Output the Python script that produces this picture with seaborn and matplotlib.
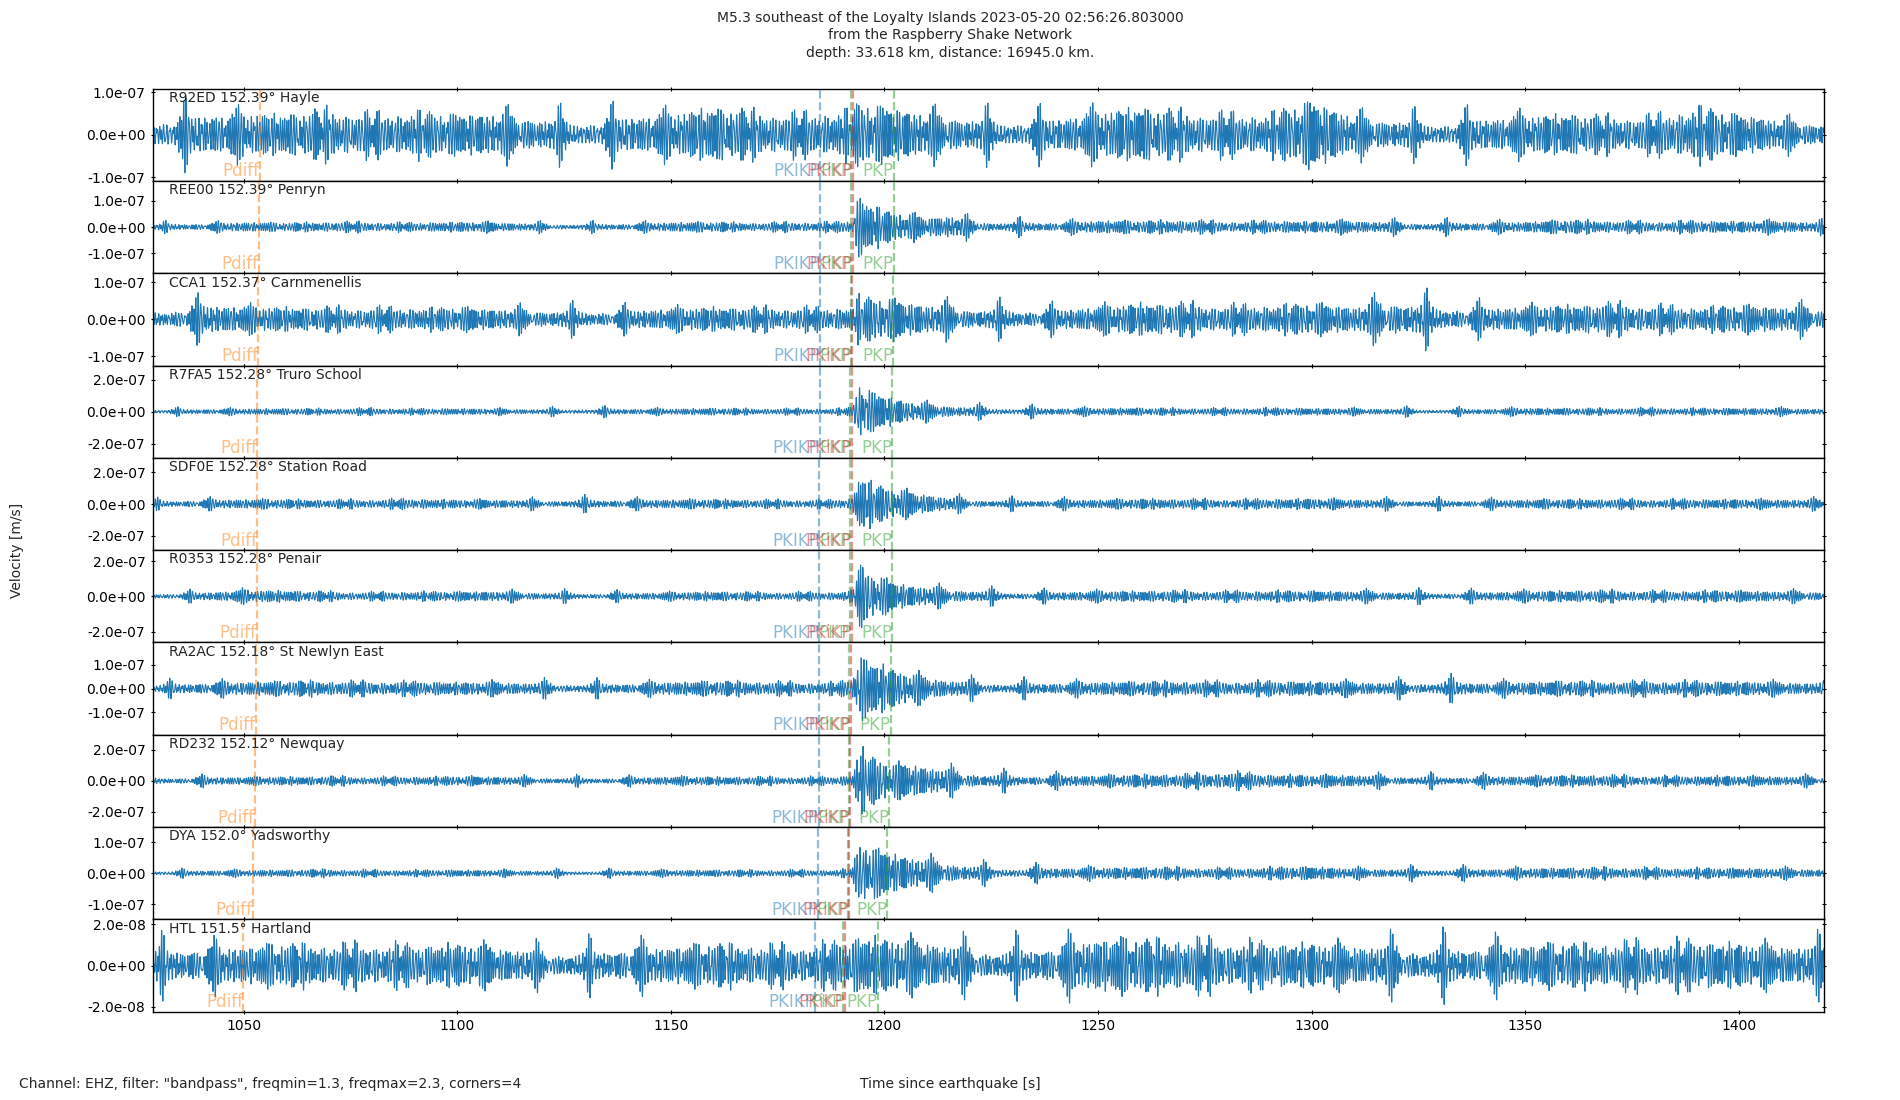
import numpy as np
import pandas as pd
import matplotlib
matplotlib.use("Agg")
import matplotlib.pyplot as plt
import matplotlib.transforms as mtransforms
from matplotlib.ticker import FormatStrFormatter, MultipleLocator
import seaborn as sns

# ==========================================
# Data
# ==========================================
stations = ["R92ED", "REE00", "CCA1", "R7FA5", "SDF0E", "R0353", "RA2AC", "RD232", "DYA", "HTL"]
distances = ["152.39", "152.39", "152.37", "152.28", "152.28", "152.28", "152.18", "152.12", "152.0", "151.5"]
places = ["Hayle", "Penryn", "Carnmenellis", "Truro School", "Station Road", "Penair",
          "St Newlyn East", "Newquay", "Yadsworthy", "Hartland"]

# phase arrival times [s] per station
t_pdiff = [1053.7, 1053.5, 1053.45, 1053.2, 1053.15, 1053.05, 1052.8, 1052.6, 1052.1, 1049.9]
t_pkikp = [1184.9, 1184.9, 1184.9, 1184.85, 1184.8, 1184.8, 1184.7, 1184.6, 1184.45, 1183.75]
t_pkikp2 = [1192.6, 1192.6, 1192.5, 1192.35, 1192.35, 1192.3, 1192.2, 1192.0, 1191.8, 1190.85]
t_pkp1 = [1192.2, 1192.2, 1192.1, 1191.95, 1191.95, 1191.9, 1191.8, 1191.6, 1191.4, 1190.2]
t_pkp2 = [1202.2, 1202.2, 1202.1, 1201.85, 1201.8, 1201.8, 1201.5, 1201.15, 1200.7, 1198.45]

# y tick step and y limit per station [nm/s]
ytick_nm = [100, 100, 100, 200, 200, 200, 100, 200, 100, 20]
ylim_nm = [108.6, 177, 125, 287, 292, 262, 195, 298, 149, 22.4]

# envelope knots (time) and peak amplitude [nm/s]
env_t = [1030, 1040, 1050, 1060, 1070, 1080, 1090, 1100, 1110, 1120, 1130, 1140, 1150, 1160, 1170, 1180,
         1188, 1192.5, 1194, 1197, 1202, 1206, 1210, 1215, 1220,
         1230, 1240, 1250, 1260, 1270, 1280, 1290, 1300, 1310, 1320, 1330, 1340, 1350, 1360, 1370,
         1380, 1390, 1400, 1410, 1420]
env_r92ed = [50, 55, 50, 45, 55, 45, 50, 45, 50, 45, 45, 50, 50, 60, 50, 45,
             50, 55, 70, 65, 60, 55, 50, 50, 45,
             45, 45, 55, 60, 50, 45, 45, 75, 45, 40, 40, 45, 45, 45, 40, 40, 60, 45, 35, 30]
env_ree00 = [15, 15, 18, 15, 18, 18, 15, 18, 18, 15, 15, 15, 18, 18, 15, 18,
             18, 22, 120, 80, 55, 45, 40, 50, 30,
             25, 20, 25, 22, 25, 20, 22, 20, 25, 22, 22, 20, 20, 25, 22, 20, 22, 20, 25, 20]
env_cca1 = [30, 45, 35, 30, 30, 30, 28, 30, 28, 30, 30, 28, 30, 30, 30, 30,
            28, 32, 60, 55, 50, 45, 40, 40, 35,
            35, 30, 35, 40, 40, 35, 35, 40, 35, 60, 45, 35, 35, 35, 40, 35, 30, 35, 35, 35]
env_r7fa5 = [18, 18, 18, 18, 18, 20, 18, 18, 18, 18, 25, 20, 18, 20, 18, 18,
             18, 25, 170, 120, 80, 60, 50, 40, 35,
             30, 25, 22, 22, 20, 20, 22, 20, 20, 22, 20, 20, 22, 20, 20, 22, 20, 20, 22, 22]
env_sdf0e = [25, 30, 30, 28, 25, 28, 30, 25, 28, 28, 35, 30, 28, 28, 25, 25,
             25, 35, 180, 130, 90, 75, 65, 45, 35,
             30, 30, 28, 30, 30, 28, 30, 32, 30, 30, 28, 28, 28, 28, 30, 28, 28, 28, 30, 30]
env_r0353 = [22, 25, 35, 30, 25, 22, 25, 25, 28, 25, 25, 22, 22, 25, 22, 22,
             22, 30, 170, 120, 80, 60, 55, 45, 40,
             30, 28, 30, 28, 30, 28, 30, 28, 30, 30, 28, 28, 30, 30, 32, 28, 30, 30, 28, 32]
env_ra2ac = [25, 28, 28, 30, 30, 28, 28, 25, 28, 28, 28, 25, 28, 30, 28, 25,
             25, 35, 140, 110, 80, 60, 50, 40, 35,
             30, 28, 28, 28, 30, 28, 30, 28, 30, 30, 40, 30, 28, 30, 28, 30, 30, 28, 28, 30]
env_rd232 = [25, 28, 25, 25, 28, 25, 25, 28, 28, 25, 25, 25, 28, 25, 25, 25,
             25, 35, 200, 150, 100, 110, 95, 75, 60,
             45, 40, 35, 40, 40, 55, 40, 35, 40, 35, 35, 35, 30, 35, 35, 30, 30, 30, 30, 30]
env_dya = [10, 10, 10, 10, 12, 10, 10, 10, 10, 10, 10, 10, 10, 10, 10, 10,
           10, 14, 95, 80, 60, 50, 45, 35, 28,
           22, 20, 18, 18, 18, 15, 18, 20, 16, 16, 18, 16, 16, 16, 18, 16, 16, 15, 16, 16]
env_htl = [10, 10, 9, 10, 9, 10, 9, 10, 9, 8, 9, 10, 9, 10, 9, 9,
           10, 12, 14, 13, 12, 12, 12, 11, 10,
           10, 11, 13, 12, 12, 11, 10, 10, 10, 11, 11, 11, 10, 10, 10, 11, 11, 10, 10, 11]
envelopes = [env_r92ed, env_ree00, env_cca1, env_r7fa5, env_sdf0e, env_r0353,
             env_ra2ac, env_rd232, env_dya, env_htl]

# band-limited carrier inside the 1.3-2.3 Hz passband
carrier_freqs = [1.31, 1.39, 1.46, 1.55, 1.63, 1.70, 1.79, 1.86, 1.95, 2.03, 2.12, 2.21, 2.28]

T_START, T_END = 1028.7, 1419.9
SR = 50.0

TITLE = ("M5.3 southeast of the Loyalty Islands 2023-05-20 02:56:26.803000\n"
         "from the Raspberry Shake Network\n"
         "depth: 33.618 km, distance: 16945.0 km.")
FOOTER = 'Channel: EHZ, filter: "bandpass", freqmin=1.3, freqmax=2.3, corners=4'

PHASE_COLORS = {"Pdiff": "tab:orange", "PKIKP": "tab:blue", "PKiKP": "tab:red", "PKP": "tab:green"}


def analytic_envelope(x):
    """Amplitude of the analytic signal (FFT based Hilbert transform)."""
    n = len(x)
    h = np.zeros(n)
    h[0] = 1
    h[1:(n + 1) // 2] = 2
    if n % 2 == 0:
        h[n // 2] = 1
    return np.abs(np.fft.ifft(np.fft.fft(x) * h))


def build_trace(i, t):
    c = np.zeros_like(t)
    for k, f in enumerate(carrier_freqs):
        c += np.sin(2 * np.pi * f * (t - T_START) + 2.399 * k * (i + 1) + 1.13 * i)
    # soften the beating so the carrier never dies out completely
    c = c / (analytic_envelope(c) + 1e-9) ** 0.45
    c /= np.percentile(np.abs(c), 95)
    env = np.interp(t, env_t, envelopes[i])
    return c * env * 1e-9


def main():
    sns.set_style("white", {
        "xtick.direction": "inout", "ytick.direction": "inout",
        "xtick.top": True, "ytick.right": True,
        "xtick.bottom": True, "ytick.left": True,
        "axes.edgecolor": "black", "xtick.color": "black", "ytick.color": "black",
    })
    plt.rcParams["font.family"] = ["DejaVu Sans"]

    fig, axes = plt.subplots(len(stations), 1, figsize=(19, 11), dpi=100, sharex=True)
    fig.subplots_adjust(left=0.0804, right=0.9598, top=0.9195, bottom=0.0802, hspace=0)

    t = np.arange(T_START, T_END, 1.0 / SR)

    for i, ax in enumerate(axes):
        df = pd.DataFrame({"time": t, "vel": build_trace(i, t)})
        sns.lineplot(data=df, x="time", y="vel", ax=ax, color="#1f77b4",
                     linewidth=0.8, estimator=None, errorbar=None)

        trans = mtransforms.blended_transform_factory(ax.transData, ax.transAxes)
        phases = [("Pdiff", t_pdiff[i]), ("PKIKP", t_pkikp[i]), ("PKP", t_pkp1[i]),
                  ("PKiKP", t_pkikp2[i]), ("PKP", t_pkp2[i])]
        for name, tp in phases:
            col = PHASE_COLORS[name]
            ax.axvline(tp, color=col, alpha=0.5, linestyle="--", linewidth=1.6)
            ax.text(tp, 0.005, name, color=col, alpha=0.5, fontsize=12,
                    ha="right", va="bottom", transform=trans)

        ax.text(0.01, 0.975, f"{stations[i]} {distances[i]}° {places[i]}",
                transform=ax.transAxes, ha="left", va="top", fontsize=10)

        lim = ylim_nm[i] * 1e-9
        step = ytick_nm[i] * 1e-9
        ax.set_ylim(-lim, lim)
        ax.set_yticks([-step, 0, step])
        ax.yaxis.set_major_formatter(FormatStrFormatter("%.1e"))
        ax.set_xlim(T_START, T_END)
        ax.xaxis.set_major_locator(MultipleLocator(50))
        ax.set_xlabel("")
        ax.set_ylabel("")
        ax.tick_params(axis="both", which="both", direction="inout", top=True, right=True,
                       labelsize=10, length=3.5, width=0.8)
        for s in ax.spines.values():
            s.set_linewidth(1.0)
            s.set_color("black")

    fig.suptitle(TITLE, y=0.99, va="top", fontsize=10, linespacing=1.3)
    fig.text(0.5, 0.008, "Time since earthquake [s]", ha="center", va="bottom", fontsize=10)
    fig.text(0.005, 0.5, "Velocity [m/s]", rotation=90, ha="left", va="center", fontsize=10)
    fig.text(0.01, 0.008, FOOTER, ha="left", va="bottom", fontsize=10)

    fig.savefig("out.png", dpi=100)


if __name__ == "__main__":
    main()
